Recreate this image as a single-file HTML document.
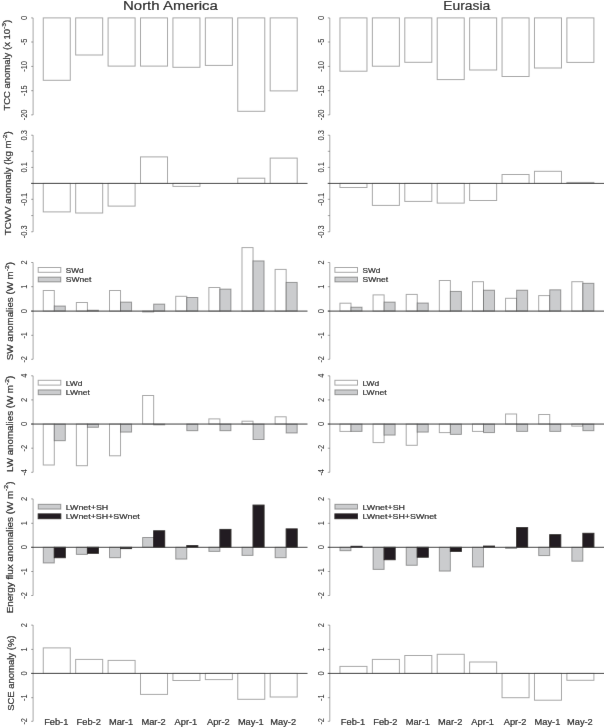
<!DOCTYPE html>
<html><head><meta charset="utf-8"><style>
html,body{margin:0;padding:0;background:#fff;}
body{width:604px;height:727px;overflow:hidden;}
svg{display:block;font-family:"Liberation Sans", sans-serif;}
text{stroke:#1a1a1a;stroke-width:0.2px;}
text.tk{stroke-width:0.05px;}
</style></head><body>
<svg width="604" height="727" viewBox="0 0 604 727">
<defs><filter id="bl" x="0" y="0" width="604" height="727" filterUnits="userSpaceOnUse"><feConvolveMatrix order="3" kernelMatrix="0.0019 0.0439 0.0019 0.0439 1 0.0439 0.0019 0.0439 0.0019" divisor="1.1835" edgeMode="duplicate" preserveAlpha="true"/></filter></defs>
<g filter="url(#bl)">
<rect width="604" height="727" fill="#fff"/>
<rect x="43.25" y="17.90" width="27.02" height="62.40" fill="#fff" stroke="rgba(0,0,0,0.35)" stroke-width="1.0"/>
<rect x="75.67" y="17.90" width="27.02" height="37.10" fill="#fff" stroke="rgba(0,0,0,0.35)" stroke-width="1.0"/>
<rect x="108.09" y="17.90" width="27.02" height="48.20" fill="#fff" stroke="rgba(0,0,0,0.35)" stroke-width="1.0"/>
<rect x="140.51" y="17.90" width="27.02" height="48.20" fill="#fff" stroke="rgba(0,0,0,0.35)" stroke-width="1.0"/>
<rect x="172.93" y="17.90" width="27.02" height="49.40" fill="#fff" stroke="rgba(0,0,0,0.35)" stroke-width="1.0"/>
<rect x="205.35" y="17.90" width="27.02" height="47.50" fill="#fff" stroke="rgba(0,0,0,0.35)" stroke-width="1.0"/>
<rect x="237.76" y="17.90" width="27.02" height="93.40" fill="#fff" stroke="rgba(0,0,0,0.35)" stroke-width="1.0"/>
<rect x="270.18" y="17.90" width="27.02" height="73.00" fill="#fff" stroke="rgba(0,0,0,0.35)" stroke-width="1.0"/>
<line x1="33.10" y1="17.90" x2="33.10" y2="114.90" stroke="rgba(0,0,0,0.35)" stroke-width="1.0"/>
<line x1="31.10" y1="17.90" x2="33.10" y2="17.90" stroke="rgba(0,0,0,0.35)" stroke-width="1.0"/>
<text x="0" y="0" font-size="8.6" text-anchor="middle" fill="#1a1a1a" transform="translate(27.00 17.90) rotate(-90) scale(0.8701 1)" class="tk">0</text>
<line x1="31.10" y1="42.00" x2="33.10" y2="42.00" stroke="rgba(0,0,0,0.35)" stroke-width="1.0"/>
<text x="0" y="0" font-size="8.6" text-anchor="middle" fill="#1a1a1a" transform="translate(27.00 42.00) rotate(-90) scale(0.8701 1)" class="tk">-5</text>
<line x1="31.10" y1="66.40" x2="33.10" y2="66.40" stroke="rgba(0,0,0,0.35)" stroke-width="1.0"/>
<text x="0" y="0" font-size="8.6" text-anchor="middle" fill="#1a1a1a" transform="translate(27.00 66.40) rotate(-90) scale(0.8701 1)" class="tk">-10</text>
<line x1="31.10" y1="90.70" x2="33.10" y2="90.70" stroke="rgba(0,0,0,0.35)" stroke-width="1.0"/>
<text x="0" y="0" font-size="8.6" text-anchor="middle" fill="#1a1a1a" transform="translate(27.00 90.70) rotate(-90) scale(0.8701 1)" class="tk">-15</text>
<line x1="31.10" y1="114.90" x2="33.10" y2="114.90" stroke="rgba(0,0,0,0.35)" stroke-width="1.0"/>
<text x="0" y="0" font-size="8.6" text-anchor="middle" fill="#1a1a1a" transform="translate(27.00 114.90) rotate(-90) scale(0.8701 1)" class="tk">-20</text>
<rect x="339.95" y="17.90" width="27.02" height="53.30" fill="#fff" stroke="rgba(0,0,0,0.35)" stroke-width="1.0"/>
<rect x="372.37" y="17.90" width="27.02" height="48.30" fill="#fff" stroke="rgba(0,0,0,0.35)" stroke-width="1.0"/>
<rect x="404.79" y="17.90" width="27.02" height="44.40" fill="#fff" stroke="rgba(0,0,0,0.35)" stroke-width="1.0"/>
<rect x="437.21" y="17.90" width="27.02" height="61.70" fill="#fff" stroke="rgba(0,0,0,0.35)" stroke-width="1.0"/>
<rect x="469.63" y="17.90" width="27.02" height="52.10" fill="#fff" stroke="rgba(0,0,0,0.35)" stroke-width="1.0"/>
<rect x="502.05" y="17.90" width="27.02" height="58.60" fill="#fff" stroke="rgba(0,0,0,0.35)" stroke-width="1.0"/>
<rect x="534.46" y="17.90" width="27.02" height="50.10" fill="#fff" stroke="rgba(0,0,0,0.35)" stroke-width="1.0"/>
<rect x="566.88" y="17.90" width="27.02" height="44.50" fill="#fff" stroke="rgba(0,0,0,0.35)" stroke-width="1.0"/>
<line x1="329.80" y1="17.90" x2="329.80" y2="114.90" stroke="rgba(0,0,0,0.35)" stroke-width="1.0"/>
<line x1="327.80" y1="17.90" x2="329.80" y2="17.90" stroke="rgba(0,0,0,0.35)" stroke-width="1.0"/>
<text x="0" y="0" font-size="8.6" text-anchor="middle" fill="#1a1a1a" transform="translate(323.70 17.90) rotate(-90) scale(0.8701 1)" class="tk">0</text>
<line x1="327.80" y1="42.00" x2="329.80" y2="42.00" stroke="rgba(0,0,0,0.35)" stroke-width="1.0"/>
<text x="0" y="0" font-size="8.6" text-anchor="middle" fill="#1a1a1a" transform="translate(323.70 42.00) rotate(-90) scale(0.8701 1)" class="tk">-5</text>
<line x1="327.80" y1="66.40" x2="329.80" y2="66.40" stroke="rgba(0,0,0,0.35)" stroke-width="1.0"/>
<text x="0" y="0" font-size="8.6" text-anchor="middle" fill="#1a1a1a" transform="translate(323.70 66.40) rotate(-90) scale(0.8701 1)" class="tk">-10</text>
<line x1="327.80" y1="90.70" x2="329.80" y2="90.70" stroke="rgba(0,0,0,0.35)" stroke-width="1.0"/>
<text x="0" y="0" font-size="8.6" text-anchor="middle" fill="#1a1a1a" transform="translate(323.70 90.70) rotate(-90) scale(0.8701 1)" class="tk">-15</text>
<line x1="327.80" y1="114.90" x2="329.80" y2="114.90" stroke="rgba(0,0,0,0.35)" stroke-width="1.0"/>
<text x="0" y="0" font-size="8.6" text-anchor="middle" fill="#1a1a1a" transform="translate(323.70 114.90) rotate(-90) scale(0.8701 1)" class="tk">-20</text>
<rect x="43.25" y="183.40" width="27.02" height="28.50" fill="#fff" stroke="rgba(0,0,0,0.35)" stroke-width="1.0"/>
<rect x="75.67" y="183.40" width="27.02" height="29.60" fill="#fff" stroke="rgba(0,0,0,0.35)" stroke-width="1.0"/>
<rect x="108.09" y="183.40" width="27.02" height="22.70" fill="#fff" stroke="rgba(0,0,0,0.35)" stroke-width="1.0"/>
<rect x="140.51" y="156.90" width="27.02" height="26.50" fill="#fff" stroke="rgba(0,0,0,0.35)" stroke-width="1.0"/>
<rect x="172.93" y="183.40" width="27.02" height="3.00" fill="#fff" stroke="rgba(0,0,0,0.35)" stroke-width="1.0"/>
<rect x="237.76" y="178.20" width="27.02" height="5.20" fill="#fff" stroke="rgba(0,0,0,0.35)" stroke-width="1.0"/>
<rect x="270.18" y="158.10" width="27.02" height="25.30" fill="#fff" stroke="rgba(0,0,0,0.35)" stroke-width="1.0"/>
<line x1="33.10" y1="135.20" x2="33.10" y2="231.80" stroke="rgba(0,0,0,0.35)" stroke-width="1.0"/>
<line x1="31.10" y1="135.20" x2="33.10" y2="135.20" stroke="rgba(0,0,0,0.35)" stroke-width="1.0"/>
<text x="0" y="0" font-size="8.6" text-anchor="middle" fill="#1a1a1a" transform="translate(27.00 135.20) rotate(-90) scale(0.8701 1)" class="tk">0.3</text>
<line x1="31.10" y1="167.40" x2="33.10" y2="167.40" stroke="rgba(0,0,0,0.35)" stroke-width="1.0"/>
<text x="0" y="0" font-size="8.6" text-anchor="middle" fill="#1a1a1a" transform="translate(27.00 167.40) rotate(-90) scale(0.8701 1)" class="tk">0.1</text>
<line x1="31.10" y1="199.30" x2="33.10" y2="199.30" stroke="rgba(0,0,0,0.35)" stroke-width="1.0"/>
<text x="0" y="0" font-size="8.6" text-anchor="middle" fill="#1a1a1a" transform="translate(27.00 199.30) rotate(-90) scale(0.8701 1)" class="tk">-0.1</text>
<line x1="31.10" y1="231.80" x2="33.10" y2="231.80" stroke="rgba(0,0,0,0.35)" stroke-width="1.0"/>
<text x="0" y="0" font-size="8.6" text-anchor="middle" fill="#1a1a1a" transform="translate(27.00 231.80) rotate(-90) scale(0.8701 1)" class="tk">-0.3</text>
<line x1="31.10" y1="151.30" x2="33.10" y2="151.30" stroke="rgba(0,0,0,0.35)" stroke-width="1.0"/>
<line x1="31.10" y1="183.40" x2="33.10" y2="183.40" stroke="rgba(0,0,0,0.35)" stroke-width="1.0"/>
<line x1="31.10" y1="215.60" x2="33.10" y2="215.60" stroke="rgba(0,0,0,0.35)" stroke-width="1.0"/>
<line x1="31.10" y1="183.40" x2="307.50" y2="183.40" stroke="#3c3c3c" stroke-width="1.0"/>
<rect x="339.95" y="183.40" width="27.02" height="4.10" fill="#fff" stroke="rgba(0,0,0,0.35)" stroke-width="1.0"/>
<rect x="372.37" y="183.40" width="27.02" height="22.00" fill="#fff" stroke="rgba(0,0,0,0.35)" stroke-width="1.0"/>
<rect x="404.79" y="183.40" width="27.02" height="18.00" fill="#fff" stroke="rgba(0,0,0,0.35)" stroke-width="1.0"/>
<rect x="437.21" y="183.40" width="27.02" height="19.70" fill="#fff" stroke="rgba(0,0,0,0.35)" stroke-width="1.0"/>
<rect x="469.63" y="183.40" width="27.02" height="17.10" fill="#fff" stroke="rgba(0,0,0,0.35)" stroke-width="1.0"/>
<rect x="502.05" y="174.50" width="27.02" height="8.90" fill="#fff" stroke="rgba(0,0,0,0.35)" stroke-width="1.0"/>
<rect x="534.46" y="171.30" width="27.02" height="12.10" fill="#fff" stroke="rgba(0,0,0,0.35)" stroke-width="1.0"/>
<rect x="566.88" y="182.40" width="27.02" height="1.00" fill="#fff" stroke="rgba(0,0,0,0.35)" stroke-width="1.0"/>
<line x1="329.80" y1="135.20" x2="329.80" y2="231.80" stroke="rgba(0,0,0,0.35)" stroke-width="1.0"/>
<line x1="327.80" y1="135.20" x2="329.80" y2="135.20" stroke="rgba(0,0,0,0.35)" stroke-width="1.0"/>
<text x="0" y="0" font-size="8.6" text-anchor="middle" fill="#1a1a1a" transform="translate(323.70 135.20) rotate(-90) scale(0.8701 1)" class="tk">0.3</text>
<line x1="327.80" y1="167.40" x2="329.80" y2="167.40" stroke="rgba(0,0,0,0.35)" stroke-width="1.0"/>
<text x="0" y="0" font-size="8.6" text-anchor="middle" fill="#1a1a1a" transform="translate(323.70 167.40) rotate(-90) scale(0.8701 1)" class="tk">0.1</text>
<line x1="327.80" y1="199.30" x2="329.80" y2="199.30" stroke="rgba(0,0,0,0.35)" stroke-width="1.0"/>
<text x="0" y="0" font-size="8.6" text-anchor="middle" fill="#1a1a1a" transform="translate(323.70 199.30) rotate(-90) scale(0.8701 1)" class="tk">-0.1</text>
<line x1="327.80" y1="231.80" x2="329.80" y2="231.80" stroke="rgba(0,0,0,0.35)" stroke-width="1.0"/>
<text x="0" y="0" font-size="8.6" text-anchor="middle" fill="#1a1a1a" transform="translate(323.70 231.80) rotate(-90) scale(0.8701 1)" class="tk">-0.3</text>
<line x1="327.80" y1="151.30" x2="329.80" y2="151.30" stroke="rgba(0,0,0,0.35)" stroke-width="1.0"/>
<line x1="327.80" y1="183.40" x2="329.80" y2="183.40" stroke="rgba(0,0,0,0.35)" stroke-width="1.0"/>
<line x1="327.80" y1="215.60" x2="329.80" y2="215.60" stroke="rgba(0,0,0,0.35)" stroke-width="1.0"/>
<line x1="327.80" y1="183.40" x2="606.00" y2="183.40" stroke="#3c3c3c" stroke-width="1.0"/>
<rect x="43.25" y="290.50" width="11.04" height="20.60" fill="#fff" stroke="rgba(0,0,0,0.35)" stroke-width="1.0"/>
<rect x="54.29" y="306.00" width="11.04" height="5.10" fill="#cbccce" stroke="rgba(0,0,0,0.35)" stroke-width="1.0"/>
<rect x="76.37" y="302.50" width="11.04" height="8.60" fill="#fff" stroke="rgba(0,0,0,0.35)" stroke-width="1.0"/>
<rect x="87.42" y="310.20" width="11.04" height="0.90" fill="#cbccce" stroke="rgba(0,0,0,0.35)" stroke-width="1.0"/>
<rect x="109.50" y="290.50" width="11.04" height="20.60" fill="#fff" stroke="rgba(0,0,0,0.35)" stroke-width="1.0"/>
<rect x="120.54" y="302.10" width="11.04" height="9.00" fill="#cbccce" stroke="rgba(0,0,0,0.35)" stroke-width="1.0"/>
<rect x="142.62" y="311.10" width="11.04" height="0.90" fill="#fff" stroke="rgba(0,0,0,0.35)" stroke-width="1.0"/>
<rect x="153.66" y="304.10" width="11.04" height="7.00" fill="#cbccce" stroke="rgba(0,0,0,0.35)" stroke-width="1.0"/>
<rect x="175.75" y="296.30" width="11.04" height="14.80" fill="#fff" stroke="rgba(0,0,0,0.35)" stroke-width="1.0"/>
<rect x="186.79" y="297.50" width="11.04" height="13.60" fill="#cbccce" stroke="rgba(0,0,0,0.35)" stroke-width="1.0"/>
<rect x="208.87" y="287.50" width="11.04" height="23.60" fill="#fff" stroke="rgba(0,0,0,0.35)" stroke-width="1.0"/>
<rect x="219.91" y="289.10" width="11.04" height="22.00" fill="#cbccce" stroke="rgba(0,0,0,0.35)" stroke-width="1.0"/>
<rect x="241.99" y="247.60" width="11.04" height="63.50" fill="#fff" stroke="rgba(0,0,0,0.35)" stroke-width="1.0"/>
<rect x="253.03" y="260.90" width="11.04" height="50.20" fill="#cbccce" stroke="rgba(0,0,0,0.35)" stroke-width="1.0"/>
<rect x="275.12" y="269.40" width="11.04" height="41.70" fill="#fff" stroke="rgba(0,0,0,0.35)" stroke-width="1.0"/>
<rect x="286.16" y="282.40" width="11.04" height="28.70" fill="#cbccce" stroke="rgba(0,0,0,0.35)" stroke-width="1.0"/>
<rect x="38.20" y="267.50" width="22.60" height="4.80" fill="#fff" stroke="rgba(0,0,0,0.35)" stroke-width="1.0"/>
<rect x="38.20" y="277.10" width="22.60" height="4.80" fill="#cbccce" stroke="rgba(0,0,0,0.35)" stroke-width="1.0"/>
<text x="0" y="0" font-size="7.8" text-anchor="start" fill="#1a1a1a" transform="translate(65.80 272.80) scale(1.0550 1)">SWd</text>
<text x="0" y="0" font-size="7.8" text-anchor="start" fill="#1a1a1a" transform="translate(65.80 282.40) scale(1.0941 1)">SWnet</text>
<line x1="33.10" y1="262.50" x2="33.10" y2="359.30" stroke="rgba(0,0,0,0.35)" stroke-width="1.0"/>
<line x1="31.10" y1="262.50" x2="33.10" y2="262.50" stroke="rgba(0,0,0,0.35)" stroke-width="1.0"/>
<text x="0" y="0" font-size="8.6" text-anchor="middle" fill="#1a1a1a" transform="translate(27.00 262.50) rotate(-90) scale(0.8701 1)" class="tk">2</text>
<line x1="31.10" y1="286.70" x2="33.10" y2="286.70" stroke="rgba(0,0,0,0.35)" stroke-width="1.0"/>
<text x="0" y="0" font-size="8.6" text-anchor="middle" fill="#1a1a1a" transform="translate(27.00 286.70) rotate(-90) scale(0.8701 1)" class="tk">1</text>
<line x1="31.10" y1="311.10" x2="33.10" y2="311.10" stroke="rgba(0,0,0,0.35)" stroke-width="1.0"/>
<text x="0" y="0" font-size="8.6" text-anchor="middle" fill="#1a1a1a" transform="translate(27.00 311.10) rotate(-90) scale(0.8701 1)" class="tk">0</text>
<line x1="31.10" y1="335.30" x2="33.10" y2="335.30" stroke="rgba(0,0,0,0.35)" stroke-width="1.0"/>
<text x="0" y="0" font-size="8.6" text-anchor="middle" fill="#1a1a1a" transform="translate(27.00 335.30) rotate(-90) scale(0.8701 1)" class="tk">-1</text>
<line x1="31.10" y1="359.30" x2="33.10" y2="359.30" stroke="rgba(0,0,0,0.35)" stroke-width="1.0"/>
<text x="0" y="0" font-size="8.6" text-anchor="middle" fill="#1a1a1a" transform="translate(27.00 359.30) rotate(-90) scale(0.8701 1)" class="tk">-2</text>
<line x1="31.10" y1="311.10" x2="307.50" y2="311.10" stroke="#3c3c3c" stroke-width="1.0"/>
<rect x="339.95" y="303.20" width="11.04" height="7.90" fill="#fff" stroke="rgba(0,0,0,0.35)" stroke-width="1.0"/>
<rect x="350.99" y="307.20" width="11.04" height="3.90" fill="#cbccce" stroke="rgba(0,0,0,0.35)" stroke-width="1.0"/>
<rect x="373.07" y="294.90" width="11.04" height="16.20" fill="#fff" stroke="rgba(0,0,0,0.35)" stroke-width="1.0"/>
<rect x="384.12" y="302.10" width="11.04" height="9.00" fill="#cbccce" stroke="rgba(0,0,0,0.35)" stroke-width="1.0"/>
<rect x="406.20" y="294.40" width="11.04" height="16.70" fill="#fff" stroke="rgba(0,0,0,0.35)" stroke-width="1.0"/>
<rect x="417.24" y="303.00" width="11.04" height="8.10" fill="#cbccce" stroke="rgba(0,0,0,0.35)" stroke-width="1.0"/>
<rect x="439.32" y="280.50" width="11.04" height="30.60" fill="#fff" stroke="rgba(0,0,0,0.35)" stroke-width="1.0"/>
<rect x="450.36" y="291.40" width="11.04" height="19.70" fill="#cbccce" stroke="rgba(0,0,0,0.35)" stroke-width="1.0"/>
<rect x="472.45" y="281.70" width="11.04" height="29.40" fill="#fff" stroke="rgba(0,0,0,0.35)" stroke-width="1.0"/>
<rect x="483.49" y="290.20" width="11.04" height="20.90" fill="#cbccce" stroke="rgba(0,0,0,0.35)" stroke-width="1.0"/>
<rect x="505.57" y="298.30" width="11.04" height="12.80" fill="#fff" stroke="rgba(0,0,0,0.35)" stroke-width="1.0"/>
<rect x="516.61" y="290.20" width="11.04" height="20.90" fill="#cbccce" stroke="rgba(0,0,0,0.35)" stroke-width="1.0"/>
<rect x="538.69" y="295.60" width="11.04" height="15.50" fill="#fff" stroke="rgba(0,0,0,0.35)" stroke-width="1.0"/>
<rect x="549.73" y="289.80" width="11.04" height="21.30" fill="#cbccce" stroke="rgba(0,0,0,0.35)" stroke-width="1.0"/>
<rect x="571.82" y="281.70" width="11.04" height="29.40" fill="#fff" stroke="rgba(0,0,0,0.35)" stroke-width="1.0"/>
<rect x="582.86" y="283.30" width="11.04" height="27.80" fill="#cbccce" stroke="rgba(0,0,0,0.35)" stroke-width="1.0"/>
<rect x="334.90" y="267.50" width="22.60" height="4.80" fill="#fff" stroke="rgba(0,0,0,0.35)" stroke-width="1.0"/>
<rect x="334.90" y="277.10" width="22.60" height="4.80" fill="#cbccce" stroke="rgba(0,0,0,0.35)" stroke-width="1.0"/>
<text x="0" y="0" font-size="7.8" text-anchor="start" fill="#1a1a1a" transform="translate(362.50 272.80) scale(1.0550 1)">SWd</text>
<text x="0" y="0" font-size="7.8" text-anchor="start" fill="#1a1a1a" transform="translate(362.50 282.40) scale(1.0941 1)">SWnet</text>
<line x1="329.80" y1="262.50" x2="329.80" y2="359.30" stroke="rgba(0,0,0,0.35)" stroke-width="1.0"/>
<line x1="327.80" y1="262.50" x2="329.80" y2="262.50" stroke="rgba(0,0,0,0.35)" stroke-width="1.0"/>
<text x="0" y="0" font-size="8.6" text-anchor="middle" fill="#1a1a1a" transform="translate(323.70 262.50) rotate(-90) scale(0.8701 1)" class="tk">2</text>
<line x1="327.80" y1="286.70" x2="329.80" y2="286.70" stroke="rgba(0,0,0,0.35)" stroke-width="1.0"/>
<text x="0" y="0" font-size="8.6" text-anchor="middle" fill="#1a1a1a" transform="translate(323.70 286.70) rotate(-90) scale(0.8701 1)" class="tk">1</text>
<line x1="327.80" y1="311.10" x2="329.80" y2="311.10" stroke="rgba(0,0,0,0.35)" stroke-width="1.0"/>
<text x="0" y="0" font-size="8.6" text-anchor="middle" fill="#1a1a1a" transform="translate(323.70 311.10) rotate(-90) scale(0.8701 1)" class="tk">0</text>
<line x1="327.80" y1="335.30" x2="329.80" y2="335.30" stroke="rgba(0,0,0,0.35)" stroke-width="1.0"/>
<text x="0" y="0" font-size="8.6" text-anchor="middle" fill="#1a1a1a" transform="translate(323.70 335.30) rotate(-90) scale(0.8701 1)" class="tk">-1</text>
<line x1="327.80" y1="359.30" x2="329.80" y2="359.30" stroke="rgba(0,0,0,0.35)" stroke-width="1.0"/>
<text x="0" y="0" font-size="8.6" text-anchor="middle" fill="#1a1a1a" transform="translate(323.70 359.30) rotate(-90) scale(0.8701 1)" class="tk">-2</text>
<line x1="327.80" y1="311.10" x2="606.00" y2="311.10" stroke="#3c3c3c" stroke-width="1.0"/>
<rect x="43.25" y="424.05" width="11.04" height="40.95" fill="#fff" stroke="rgba(0,0,0,0.35)" stroke-width="1.0"/>
<rect x="54.29" y="424.05" width="11.04" height="16.65" fill="#cbccce" stroke="rgba(0,0,0,0.35)" stroke-width="1.0"/>
<rect x="76.37" y="424.05" width="11.04" height="41.65" fill="#fff" stroke="rgba(0,0,0,0.35)" stroke-width="1.0"/>
<rect x="87.42" y="424.05" width="11.04" height="3.25" fill="#cbccce" stroke="rgba(0,0,0,0.35)" stroke-width="1.0"/>
<rect x="109.50" y="424.05" width="11.04" height="31.75" fill="#fff" stroke="rgba(0,0,0,0.35)" stroke-width="1.0"/>
<rect x="120.54" y="424.05" width="11.04" height="8.05" fill="#cbccce" stroke="rgba(0,0,0,0.35)" stroke-width="1.0"/>
<rect x="142.62" y="395.50" width="11.04" height="28.55" fill="#fff" stroke="rgba(0,0,0,0.35)" stroke-width="1.0"/>
<rect x="153.66" y="424.05" width="11.04" height="0.85" fill="#cbccce" stroke="rgba(0,0,0,0.35)" stroke-width="1.0"/>
<rect x="186.79" y="424.05" width="11.04" height="6.65" fill="#cbccce" stroke="rgba(0,0,0,0.35)" stroke-width="1.0"/>
<rect x="208.87" y="418.90" width="11.04" height="5.15" fill="#fff" stroke="rgba(0,0,0,0.35)" stroke-width="1.0"/>
<rect x="219.91" y="424.05" width="11.04" height="6.65" fill="#cbccce" stroke="rgba(0,0,0,0.35)" stroke-width="1.0"/>
<rect x="241.99" y="421.20" width="11.04" height="2.85" fill="#fff" stroke="rgba(0,0,0,0.35)" stroke-width="1.0"/>
<rect x="253.03" y="424.05" width="11.04" height="15.45" fill="#cbccce" stroke="rgba(0,0,0,0.35)" stroke-width="1.0"/>
<rect x="275.12" y="416.80" width="11.04" height="7.25" fill="#fff" stroke="rgba(0,0,0,0.35)" stroke-width="1.0"/>
<rect x="286.16" y="424.05" width="11.04" height="8.95" fill="#cbccce" stroke="rgba(0,0,0,0.35)" stroke-width="1.0"/>
<rect x="38.20" y="380.30" width="22.60" height="4.80" fill="#fff" stroke="rgba(0,0,0,0.35)" stroke-width="1.0"/>
<rect x="38.20" y="389.90" width="22.60" height="4.80" fill="#cbccce" stroke="rgba(0,0,0,0.35)" stroke-width="1.0"/>
<text x="0" y="0" font-size="7.8" text-anchor="start" fill="#1a1a1a" transform="translate(65.80 385.60) scale(1.0816 1)">LWd</text>
<text x="0" y="0" font-size="7.8" text-anchor="start" fill="#1a1a1a" transform="translate(65.80 395.20) scale(1.0972 1)">LWnet</text>
<line x1="33.10" y1="375.80" x2="33.10" y2="472.30" stroke="rgba(0,0,0,0.35)" stroke-width="1.0"/>
<line x1="31.10" y1="375.80" x2="33.10" y2="375.80" stroke="rgba(0,0,0,0.35)" stroke-width="1.0"/>
<text x="0" y="0" font-size="8.6" text-anchor="middle" fill="#1a1a1a" transform="translate(27.00 375.80) rotate(-90) scale(0.8701 1)" class="tk">4</text>
<line x1="31.10" y1="399.90" x2="33.10" y2="399.90" stroke="rgba(0,0,0,0.35)" stroke-width="1.0"/>
<text x="0" y="0" font-size="8.6" text-anchor="middle" fill="#1a1a1a" transform="translate(27.00 399.90) rotate(-90) scale(0.8701 1)" class="tk">2</text>
<line x1="31.10" y1="424.00" x2="33.10" y2="424.00" stroke="rgba(0,0,0,0.35)" stroke-width="1.0"/>
<text x="0" y="0" font-size="8.6" text-anchor="middle" fill="#1a1a1a" transform="translate(27.00 424.00) rotate(-90) scale(0.8701 1)" class="tk">0</text>
<line x1="31.10" y1="448.20" x2="33.10" y2="448.20" stroke="rgba(0,0,0,0.35)" stroke-width="1.0"/>
<text x="0" y="0" font-size="8.6" text-anchor="middle" fill="#1a1a1a" transform="translate(27.00 448.20) rotate(-90) scale(0.8701 1)" class="tk">-2</text>
<line x1="31.10" y1="472.30" x2="33.10" y2="472.30" stroke="rgba(0,0,0,0.35)" stroke-width="1.0"/>
<text x="0" y="0" font-size="8.6" text-anchor="middle" fill="#1a1a1a" transform="translate(27.00 472.30) rotate(-90) scale(0.8701 1)" class="tk">-4</text>
<line x1="31.10" y1="424.05" x2="307.50" y2="424.05" stroke="#3c3c3c" stroke-width="1.0"/>
<rect x="339.95" y="424.05" width="11.04" height="7.35" fill="#fff" stroke="rgba(0,0,0,0.35)" stroke-width="1.0"/>
<rect x="350.99" y="424.05" width="11.04" height="7.35" fill="#cbccce" stroke="rgba(0,0,0,0.35)" stroke-width="1.0"/>
<rect x="373.07" y="424.05" width="11.04" height="18.55" fill="#fff" stroke="rgba(0,0,0,0.35)" stroke-width="1.0"/>
<rect x="384.12" y="424.05" width="11.04" height="11.05" fill="#cbccce" stroke="rgba(0,0,0,0.35)" stroke-width="1.0"/>
<rect x="406.20" y="424.05" width="11.04" height="21.25" fill="#fff" stroke="rgba(0,0,0,0.35)" stroke-width="1.0"/>
<rect x="417.24" y="424.05" width="11.04" height="8.05" fill="#cbccce" stroke="rgba(0,0,0,0.35)" stroke-width="1.0"/>
<rect x="439.32" y="424.05" width="11.04" height="8.55" fill="#fff" stroke="rgba(0,0,0,0.35)" stroke-width="1.0"/>
<rect x="450.36" y="424.05" width="11.04" height="10.35" fill="#cbccce" stroke="rgba(0,0,0,0.35)" stroke-width="1.0"/>
<rect x="472.45" y="424.05" width="11.04" height="7.35" fill="#fff" stroke="rgba(0,0,0,0.35)" stroke-width="1.0"/>
<rect x="483.49" y="424.05" width="11.04" height="8.55" fill="#cbccce" stroke="rgba(0,0,0,0.35)" stroke-width="1.0"/>
<rect x="505.57" y="414.00" width="11.04" height="10.05" fill="#fff" stroke="rgba(0,0,0,0.35)" stroke-width="1.0"/>
<rect x="516.61" y="424.05" width="11.04" height="7.35" fill="#cbccce" stroke="rgba(0,0,0,0.35)" stroke-width="1.0"/>
<rect x="538.69" y="414.50" width="11.04" height="9.55" fill="#fff" stroke="rgba(0,0,0,0.35)" stroke-width="1.0"/>
<rect x="549.73" y="424.05" width="11.04" height="7.35" fill="#cbccce" stroke="rgba(0,0,0,0.35)" stroke-width="1.0"/>
<rect x="571.82" y="424.05" width="11.04" height="2.05" fill="#fff" stroke="rgba(0,0,0,0.35)" stroke-width="1.0"/>
<rect x="582.86" y="424.05" width="11.04" height="6.65" fill="#cbccce" stroke="rgba(0,0,0,0.35)" stroke-width="1.0"/>
<rect x="334.90" y="380.30" width="22.60" height="4.80" fill="#fff" stroke="rgba(0,0,0,0.35)" stroke-width="1.0"/>
<rect x="334.90" y="389.90" width="22.60" height="4.80" fill="#cbccce" stroke="rgba(0,0,0,0.35)" stroke-width="1.0"/>
<text x="0" y="0" font-size="7.8" text-anchor="start" fill="#1a1a1a" transform="translate(362.50 385.60) scale(1.0816 1)">LWd</text>
<text x="0" y="0" font-size="7.8" text-anchor="start" fill="#1a1a1a" transform="translate(362.50 395.20) scale(1.0972 1)">LWnet</text>
<line x1="329.80" y1="375.80" x2="329.80" y2="472.30" stroke="rgba(0,0,0,0.35)" stroke-width="1.0"/>
<line x1="327.80" y1="375.80" x2="329.80" y2="375.80" stroke="rgba(0,0,0,0.35)" stroke-width="1.0"/>
<text x="0" y="0" font-size="8.6" text-anchor="middle" fill="#1a1a1a" transform="translate(323.70 375.80) rotate(-90) scale(0.8701 1)" class="tk">4</text>
<line x1="327.80" y1="399.90" x2="329.80" y2="399.90" stroke="rgba(0,0,0,0.35)" stroke-width="1.0"/>
<text x="0" y="0" font-size="8.6" text-anchor="middle" fill="#1a1a1a" transform="translate(323.70 399.90) rotate(-90) scale(0.8701 1)" class="tk">2</text>
<line x1="327.80" y1="424.00" x2="329.80" y2="424.00" stroke="rgba(0,0,0,0.35)" stroke-width="1.0"/>
<text x="0" y="0" font-size="8.6" text-anchor="middle" fill="#1a1a1a" transform="translate(323.70 424.00) rotate(-90) scale(0.8701 1)" class="tk">0</text>
<line x1="327.80" y1="448.20" x2="329.80" y2="448.20" stroke="rgba(0,0,0,0.35)" stroke-width="1.0"/>
<text x="0" y="0" font-size="8.6" text-anchor="middle" fill="#1a1a1a" transform="translate(323.70 448.20) rotate(-90) scale(0.8701 1)" class="tk">-2</text>
<line x1="327.80" y1="472.30" x2="329.80" y2="472.30" stroke="rgba(0,0,0,0.35)" stroke-width="1.0"/>
<text x="0" y="0" font-size="8.6" text-anchor="middle" fill="#1a1a1a" transform="translate(323.70 472.30) rotate(-90) scale(0.8701 1)" class="tk">-4</text>
<line x1="327.80" y1="424.05" x2="606.00" y2="424.05" stroke="#3c3c3c" stroke-width="1.0"/>
<rect x="43.25" y="547.30" width="11.04" height="15.70" fill="#cbccce" stroke="rgba(0,0,0,0.35)" stroke-width="1.0"/>
<rect x="54.29" y="547.30" width="11.04" height="10.40" fill="#231f20" stroke="#231f20" stroke-width="1.0"/>
<rect x="76.37" y="547.30" width="11.04" height="7.10" fill="#cbccce" stroke="rgba(0,0,0,0.35)" stroke-width="1.0"/>
<rect x="87.42" y="547.30" width="11.04" height="6.00" fill="#231f20" stroke="#231f20" stroke-width="1.0"/>
<rect x="109.50" y="547.30" width="11.04" height="10.40" fill="#cbccce" stroke="rgba(0,0,0,0.35)" stroke-width="1.0"/>
<rect x="120.54" y="547.30" width="11.04" height="1.30" fill="#231f20" stroke="#231f20" stroke-width="1.0"/>
<rect x="142.62" y="537.50" width="11.04" height="9.80" fill="#cbccce" stroke="rgba(0,0,0,0.35)" stroke-width="1.0"/>
<rect x="153.66" y="530.80" width="11.04" height="16.50" fill="#231f20" stroke="#231f20" stroke-width="1.0"/>
<rect x="175.75" y="547.30" width="11.04" height="11.80" fill="#cbccce" stroke="rgba(0,0,0,0.35)" stroke-width="1.0"/>
<rect x="186.79" y="545.60" width="11.04" height="1.70" fill="#231f20" stroke="#231f20" stroke-width="1.0"/>
<rect x="208.87" y="547.30" width="11.04" height="4.10" fill="#cbccce" stroke="rgba(0,0,0,0.35)" stroke-width="1.0"/>
<rect x="219.91" y="529.40" width="11.04" height="17.90" fill="#231f20" stroke="#231f20" stroke-width="1.0"/>
<rect x="241.99" y="547.30" width="11.04" height="8.10" fill="#cbccce" stroke="rgba(0,0,0,0.35)" stroke-width="1.0"/>
<rect x="253.03" y="505.10" width="11.04" height="42.20" fill="#231f20" stroke="#231f20" stroke-width="1.0"/>
<rect x="275.12" y="547.30" width="11.04" height="10.40" fill="#cbccce" stroke="rgba(0,0,0,0.35)" stroke-width="1.0"/>
<rect x="286.16" y="528.90" width="11.04" height="18.40" fill="#231f20" stroke="#231f20" stroke-width="1.0"/>
<rect x="38.20" y="504.30" width="22.60" height="4.80" fill="#cbccce" stroke="rgba(0,0,0,0.35)" stroke-width="1.0"/>
<rect x="38.20" y="513.90" width="22.60" height="4.80" fill="#231f20" stroke="#231f20" stroke-width="1.0"/>
<text x="0" y="0" font-size="7.8" text-anchor="start" fill="#1a1a1a" transform="translate(65.80 509.60) scale(1.1379 1)">LWnet+SH</text>
<text x="0" y="0" font-size="7.8" text-anchor="start" fill="#1a1a1a" transform="translate(65.80 519.20) scale(1.1354 1)">LWnet+SH+SWnet</text>
<line x1="33.10" y1="498.90" x2="33.10" y2="595.50" stroke="rgba(0,0,0,0.35)" stroke-width="1.0"/>
<line x1="31.10" y1="498.90" x2="33.10" y2="498.90" stroke="rgba(0,0,0,0.35)" stroke-width="1.0"/>
<text x="0" y="0" font-size="8.6" text-anchor="middle" fill="#1a1a1a" transform="translate(27.00 498.90) rotate(-90) scale(0.8701 1)" class="tk">2</text>
<line x1="31.10" y1="523.30" x2="33.10" y2="523.30" stroke="rgba(0,0,0,0.35)" stroke-width="1.0"/>
<text x="0" y="0" font-size="8.6" text-anchor="middle" fill="#1a1a1a" transform="translate(27.00 523.30) rotate(-90) scale(0.8701 1)" class="tk">1</text>
<line x1="31.10" y1="547.30" x2="33.10" y2="547.30" stroke="rgba(0,0,0,0.35)" stroke-width="1.0"/>
<text x="0" y="0" font-size="8.6" text-anchor="middle" fill="#1a1a1a" transform="translate(27.00 547.30) rotate(-90) scale(0.8701 1)" class="tk">0</text>
<line x1="31.10" y1="571.50" x2="33.10" y2="571.50" stroke="rgba(0,0,0,0.35)" stroke-width="1.0"/>
<text x="0" y="0" font-size="8.6" text-anchor="middle" fill="#1a1a1a" transform="translate(27.00 571.50) rotate(-90) scale(0.8701 1)" class="tk">-1</text>
<line x1="31.10" y1="595.50" x2="33.10" y2="595.50" stroke="rgba(0,0,0,0.35)" stroke-width="1.0"/>
<text x="0" y="0" font-size="8.6" text-anchor="middle" fill="#1a1a1a" transform="translate(27.00 595.50) rotate(-90) scale(0.8701 1)" class="tk">-2</text>
<line x1="31.10" y1="547.30" x2="307.50" y2="547.30" stroke="#3c3c3c" stroke-width="1.0"/>
<rect x="339.95" y="547.30" width="11.04" height="3.40" fill="#cbccce" stroke="rgba(0,0,0,0.35)" stroke-width="1.0"/>
<rect x="350.99" y="546.30" width="11.04" height="1.00" fill="#231f20" stroke="#231f20" stroke-width="1.0"/>
<rect x="373.07" y="547.30" width="11.04" height="22.10" fill="#cbccce" stroke="rgba(0,0,0,0.35)" stroke-width="1.0"/>
<rect x="384.12" y="547.30" width="11.04" height="12.40" fill="#231f20" stroke="#231f20" stroke-width="1.0"/>
<rect x="406.20" y="547.30" width="11.04" height="18.00" fill="#cbccce" stroke="rgba(0,0,0,0.35)" stroke-width="1.0"/>
<rect x="417.24" y="547.30" width="11.04" height="9.90" fill="#231f20" stroke="#231f20" stroke-width="1.0"/>
<rect x="439.32" y="547.30" width="11.04" height="23.80" fill="#cbccce" stroke="rgba(0,0,0,0.35)" stroke-width="1.0"/>
<rect x="450.36" y="547.30" width="11.04" height="4.10" fill="#231f20" stroke="#231f20" stroke-width="1.0"/>
<rect x="472.45" y="547.30" width="11.04" height="19.70" fill="#cbccce" stroke="rgba(0,0,0,0.35)" stroke-width="1.0"/>
<rect x="483.49" y="546.10" width="11.04" height="1.20" fill="#231f20" stroke="#231f20" stroke-width="1.0"/>
<rect x="505.57" y="547.30" width="11.04" height="1.10" fill="#cbccce" stroke="rgba(0,0,0,0.35)" stroke-width="1.0"/>
<rect x="516.61" y="527.60" width="11.04" height="19.70" fill="#231f20" stroke="#231f20" stroke-width="1.0"/>
<rect x="538.69" y="547.30" width="11.04" height="8.30" fill="#cbccce" stroke="rgba(0,0,0,0.35)" stroke-width="1.0"/>
<rect x="549.73" y="534.70" width="11.04" height="12.60" fill="#231f20" stroke="#231f20" stroke-width="1.0"/>
<rect x="571.82" y="547.30" width="11.04" height="13.90" fill="#cbccce" stroke="rgba(0,0,0,0.35)" stroke-width="1.0"/>
<rect x="582.86" y="533.30" width="11.04" height="14.00" fill="#231f20" stroke="#231f20" stroke-width="1.0"/>
<rect x="334.90" y="504.30" width="22.60" height="4.80" fill="#cbccce" stroke="rgba(0,0,0,0.35)" stroke-width="1.0"/>
<rect x="334.90" y="513.90" width="22.60" height="4.80" fill="#231f20" stroke="#231f20" stroke-width="1.0"/>
<text x="0" y="0" font-size="7.8" text-anchor="start" fill="#1a1a1a" transform="translate(362.50 509.60) scale(1.1379 1)">LWnet+SH</text>
<text x="0" y="0" font-size="7.8" text-anchor="start" fill="#1a1a1a" transform="translate(362.50 519.20) scale(1.1354 1)">LWnet+SH+SWnet</text>
<line x1="329.80" y1="498.90" x2="329.80" y2="595.50" stroke="rgba(0,0,0,0.35)" stroke-width="1.0"/>
<line x1="327.80" y1="498.90" x2="329.80" y2="498.90" stroke="rgba(0,0,0,0.35)" stroke-width="1.0"/>
<text x="0" y="0" font-size="8.6" text-anchor="middle" fill="#1a1a1a" transform="translate(323.70 498.90) rotate(-90) scale(0.8701 1)" class="tk">2</text>
<line x1="327.80" y1="523.30" x2="329.80" y2="523.30" stroke="rgba(0,0,0,0.35)" stroke-width="1.0"/>
<text x="0" y="0" font-size="8.6" text-anchor="middle" fill="#1a1a1a" transform="translate(323.70 523.30) rotate(-90) scale(0.8701 1)" class="tk">1</text>
<line x1="327.80" y1="547.30" x2="329.80" y2="547.30" stroke="rgba(0,0,0,0.35)" stroke-width="1.0"/>
<text x="0" y="0" font-size="8.6" text-anchor="middle" fill="#1a1a1a" transform="translate(323.70 547.30) rotate(-90) scale(0.8701 1)" class="tk">0</text>
<line x1="327.80" y1="571.50" x2="329.80" y2="571.50" stroke="rgba(0,0,0,0.35)" stroke-width="1.0"/>
<text x="0" y="0" font-size="8.6" text-anchor="middle" fill="#1a1a1a" transform="translate(323.70 571.50) rotate(-90) scale(0.8701 1)" class="tk">-1</text>
<line x1="327.80" y1="595.50" x2="329.80" y2="595.50" stroke="rgba(0,0,0,0.35)" stroke-width="1.0"/>
<text x="0" y="0" font-size="8.6" text-anchor="middle" fill="#1a1a1a" transform="translate(323.70 595.50) rotate(-90) scale(0.8701 1)" class="tk">-2</text>
<line x1="327.80" y1="547.30" x2="606.00" y2="547.30" stroke="#3c3c3c" stroke-width="1.0"/>
<rect x="43.25" y="647.90" width="27.02" height="25.50" fill="#fff" stroke="rgba(0,0,0,0.35)" stroke-width="1.0"/>
<rect x="75.67" y="659.40" width="27.02" height="14.00" fill="#fff" stroke="rgba(0,0,0,0.35)" stroke-width="1.0"/>
<rect x="108.09" y="660.40" width="27.02" height="13.00" fill="#fff" stroke="rgba(0,0,0,0.35)" stroke-width="1.0"/>
<rect x="140.51" y="673.40" width="27.02" height="21.00" fill="#fff" stroke="rgba(0,0,0,0.35)" stroke-width="1.0"/>
<rect x="172.93" y="673.40" width="27.02" height="7.10" fill="#fff" stroke="rgba(0,0,0,0.35)" stroke-width="1.0"/>
<rect x="205.35" y="673.40" width="27.02" height="6.20" fill="#fff" stroke="rgba(0,0,0,0.35)" stroke-width="1.0"/>
<rect x="237.76" y="673.40" width="27.02" height="25.90" fill="#fff" stroke="rgba(0,0,0,0.35)" stroke-width="1.0"/>
<rect x="270.18" y="673.40" width="27.02" height="23.60" fill="#fff" stroke="rgba(0,0,0,0.35)" stroke-width="1.0"/>
<line x1="33.10" y1="625.10" x2="33.10" y2="721.30" stroke="rgba(0,0,0,0.35)" stroke-width="1.0"/>
<line x1="31.10" y1="625.10" x2="33.10" y2="625.10" stroke="rgba(0,0,0,0.35)" stroke-width="1.0"/>
<text x="0" y="0" font-size="8.6" text-anchor="middle" fill="#1a1a1a" transform="translate(27.00 625.10) rotate(-90) scale(0.8701 1)" class="tk">2</text>
<line x1="31.10" y1="649.40" x2="33.10" y2="649.40" stroke="rgba(0,0,0,0.35)" stroke-width="1.0"/>
<text x="0" y="0" font-size="8.6" text-anchor="middle" fill="#1a1a1a" transform="translate(27.00 649.40) rotate(-90) scale(0.8701 1)" class="tk">1</text>
<line x1="31.10" y1="673.40" x2="33.10" y2="673.40" stroke="rgba(0,0,0,0.35)" stroke-width="1.0"/>
<text x="0" y="0" font-size="8.6" text-anchor="middle" fill="#1a1a1a" transform="translate(27.00 673.40) rotate(-90) scale(0.8701 1)" class="tk">0</text>
<line x1="31.10" y1="697.70" x2="33.10" y2="697.70" stroke="rgba(0,0,0,0.35)" stroke-width="1.0"/>
<text x="0" y="0" font-size="8.6" text-anchor="middle" fill="#1a1a1a" transform="translate(27.00 697.70) rotate(-90) scale(0.8701 1)" class="tk">-1</text>
<line x1="31.10" y1="721.30" x2="33.10" y2="721.30" stroke="rgba(0,0,0,0.35)" stroke-width="1.0"/>
<text x="0" y="0" font-size="8.6" text-anchor="middle" fill="#1a1a1a" transform="translate(27.00 721.30) rotate(-90) scale(0.8701 1)" class="tk">-2</text>
<line x1="31.10" y1="673.40" x2="307.50" y2="673.40" stroke="#3c3c3c" stroke-width="1.0"/>
<rect x="339.95" y="666.40" width="27.02" height="7.00" fill="#fff" stroke="rgba(0,0,0,0.35)" stroke-width="1.0"/>
<rect x="372.37" y="659.40" width="27.02" height="14.00" fill="#fff" stroke="rgba(0,0,0,0.35)" stroke-width="1.0"/>
<rect x="404.79" y="655.50" width="27.02" height="17.90" fill="#fff" stroke="rgba(0,0,0,0.35)" stroke-width="1.0"/>
<rect x="437.21" y="654.30" width="27.02" height="19.10" fill="#fff" stroke="rgba(0,0,0,0.35)" stroke-width="1.0"/>
<rect x="469.63" y="662.00" width="27.02" height="11.40" fill="#fff" stroke="rgba(0,0,0,0.35)" stroke-width="1.0"/>
<rect x="502.05" y="673.40" width="27.02" height="24.30" fill="#fff" stroke="rgba(0,0,0,0.35)" stroke-width="1.0"/>
<rect x="534.46" y="673.40" width="27.02" height="26.80" fill="#fff" stroke="rgba(0,0,0,0.35)" stroke-width="1.0"/>
<rect x="566.88" y="673.40" width="27.02" height="6.90" fill="#fff" stroke="rgba(0,0,0,0.35)" stroke-width="1.0"/>
<line x1="329.80" y1="625.10" x2="329.80" y2="721.30" stroke="rgba(0,0,0,0.35)" stroke-width="1.0"/>
<line x1="327.80" y1="625.10" x2="329.80" y2="625.10" stroke="rgba(0,0,0,0.35)" stroke-width="1.0"/>
<text x="0" y="0" font-size="8.6" text-anchor="middle" fill="#1a1a1a" transform="translate(323.70 625.10) rotate(-90) scale(0.8701 1)" class="tk">2</text>
<line x1="327.80" y1="649.40" x2="329.80" y2="649.40" stroke="rgba(0,0,0,0.35)" stroke-width="1.0"/>
<text x="0" y="0" font-size="8.6" text-anchor="middle" fill="#1a1a1a" transform="translate(323.70 649.40) rotate(-90) scale(0.8701 1)" class="tk">1</text>
<line x1="327.80" y1="673.40" x2="329.80" y2="673.40" stroke="rgba(0,0,0,0.35)" stroke-width="1.0"/>
<text x="0" y="0" font-size="8.6" text-anchor="middle" fill="#1a1a1a" transform="translate(323.70 673.40) rotate(-90) scale(0.8701 1)" class="tk">0</text>
<line x1="327.80" y1="697.70" x2="329.80" y2="697.70" stroke="rgba(0,0,0,0.35)" stroke-width="1.0"/>
<text x="0" y="0" font-size="8.6" text-anchor="middle" fill="#1a1a1a" transform="translate(323.70 697.70) rotate(-90) scale(0.8701 1)" class="tk">-1</text>
<line x1="327.80" y1="721.30" x2="329.80" y2="721.30" stroke="rgba(0,0,0,0.35)" stroke-width="1.0"/>
<text x="0" y="0" font-size="8.6" text-anchor="middle" fill="#1a1a1a" transform="translate(323.70 721.30) rotate(-90) scale(0.8701 1)" class="tk">-2</text>
<line x1="327.80" y1="673.40" x2="606.00" y2="673.40" stroke="#3c3c3c" stroke-width="1.0"/>
<text x="0" y="0" font-size="8.8" text-anchor="middle" fill="#1a1a1a" transform="translate(10.40 65.20) rotate(-90) scale(1.0786 1)">TCC anomaly (x 10<tspan dy="-4.4" font-size="6.2">-3</tspan><tspan dy="4.4">)</tspan></text>
<text x="0" y="0" font-size="8.8" text-anchor="middle" fill="#1a1a1a" transform="translate(11.00 183.15) rotate(-90) scale(1.1000 1)">TCWV anomaly (kg m<tspan dy="-4.4" font-size="6.2">-2</tspan><tspan dy="4.4">)</tspan></text>
<text x="0" y="0" font-size="8.8" text-anchor="middle" fill="#1a1a1a" transform="translate(13.20 311.05) rotate(-90) scale(1.1091 1)">SW anomalies (W m<tspan dy="-4.4" font-size="6.2">-2</tspan><tspan dy="4.4">)</tspan></text>
<text x="0" y="0" font-size="8.8" text-anchor="middle" fill="#1a1a1a" transform="translate(13.20 423.80) rotate(-90) scale(1.1070 1)">LW anomalies (W m<tspan dy="-4.4" font-size="6.2">-2</tspan><tspan dy="4.4">)</tspan></text>
<text x="0" y="0" font-size="8.8" text-anchor="middle" fill="#1a1a1a" transform="translate(12.80 547.45) rotate(-90) scale(1.1146 1)">Energy flux anomalies (W m<tspan dy="-4.4" font-size="6.2">-2</tspan><tspan dy="4.4">)</tspan></text>
<text x="0" y="0" font-size="8.8" text-anchor="middle" fill="#1a1a1a" transform="translate(14.00 673.20) rotate(-90) scale(1.0794 1)">SCE anomaly (%)</text>
<text x="0" y="0" font-size="9.3" text-anchor="middle" fill="#1a1a1a" transform="translate(56.26 724.80) scale(0.9981 1)">Feb-1</text>
<text x="0" y="0" font-size="9.3" text-anchor="middle" fill="#1a1a1a" transform="translate(88.68 724.80) scale(0.9981 1)">Feb-2</text>
<text x="0" y="0" font-size="9.3" text-anchor="middle" fill="#1a1a1a" transform="translate(121.10 724.80) scale(0.9981 1)">Mar-1</text>
<text x="0" y="0" font-size="9.3" text-anchor="middle" fill="#1a1a1a" transform="translate(153.52 724.80) scale(0.9981 1)">Mar-2</text>
<text x="0" y="0" font-size="9.3" text-anchor="middle" fill="#1a1a1a" transform="translate(185.93 724.80) scale(0.9981 1)">Apr-1</text>
<text x="0" y="0" font-size="9.3" text-anchor="middle" fill="#1a1a1a" transform="translate(218.35 724.80) scale(0.9981 1)">Apr-2</text>
<text x="0" y="0" font-size="9.3" text-anchor="middle" fill="#1a1a1a" transform="translate(250.77 724.80) scale(0.9981 1)">May-1</text>
<text x="0" y="0" font-size="9.3" text-anchor="middle" fill="#1a1a1a" transform="translate(283.19 724.80) scale(0.9981 1)">May-2</text>
<text x="0" y="0" font-size="9.3" text-anchor="middle" fill="#1a1a1a" transform="translate(352.96 724.80) scale(0.9981 1)">Feb-1</text>
<text x="0" y="0" font-size="9.3" text-anchor="middle" fill="#1a1a1a" transform="translate(385.38 724.80) scale(0.9981 1)">Feb-2</text>
<text x="0" y="0" font-size="9.3" text-anchor="middle" fill="#1a1a1a" transform="translate(417.80 724.80) scale(0.9981 1)">Mar-1</text>
<text x="0" y="0" font-size="9.3" text-anchor="middle" fill="#1a1a1a" transform="translate(450.22 724.80) scale(0.9981 1)">Mar-2</text>
<text x="0" y="0" font-size="9.3" text-anchor="middle" fill="#1a1a1a" transform="translate(482.63 724.80) scale(0.9981 1)">Apr-1</text>
<text x="0" y="0" font-size="9.3" text-anchor="middle" fill="#1a1a1a" transform="translate(515.05 724.80) scale(0.9981 1)">Apr-2</text>
<text x="0" y="0" font-size="9.3" text-anchor="middle" fill="#1a1a1a" transform="translate(547.47 724.80) scale(0.9981 1)">May-1</text>
<text x="0" y="0" font-size="9.3" text-anchor="middle" fill="#1a1a1a" transform="translate(579.89 724.80) scale(0.9981 1)">May-2</text>
<text x="0" y="0" font-size="12.8" text-anchor="middle" fill="#1a1a1a" transform="translate(170.40 10.20) scale(1.1700 1)">North America</text>
<text x="0" y="0" font-size="12.8" text-anchor="middle" fill="#1a1a1a" transform="translate(466.75 10.20) scale(1.0837 1)">Eurasia</text>
</g>
</svg>
</body></html>
